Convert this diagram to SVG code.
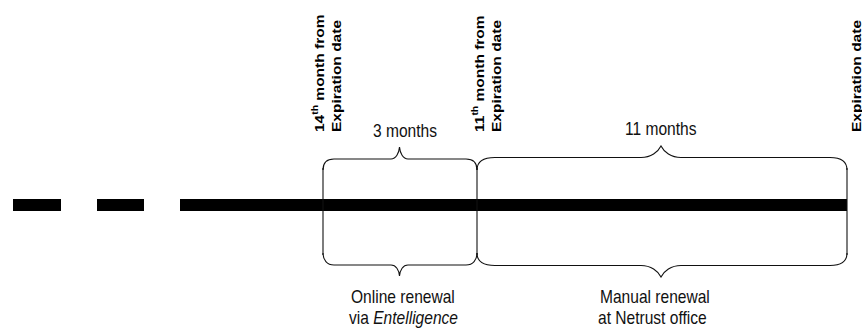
<svg xmlns="http://www.w3.org/2000/svg" width="862" height="332" viewBox="0 0 862 332">
<style>
.lbl{font-family:"Liberation Sans",Arial,sans-serif;font-size:17.5px;fill:#111}
.vl{font-family:"Liberation Sans",Arial,sans-serif;font-size:13.5px;font-weight:bold;fill:#000}
.ln{fill:none;stroke:#111;stroke-width:1.1}
.bar{fill:#000}
</style>
<rect width="862" height="332" fill="#fff"/>
<g id="timeline">
<rect class="bar" x="13" y="199" width="48" height="12"/>
<rect class="bar" x="97" y="199" width="47" height="12"/>
<rect class="bar" x="180" y="199" width="37" height="12"/>
<rect class="bar" x="217" y="199" width="630" height="12"/>
</g>
<g id="connectors">
<line class="ln" x1="323" y1="168" x2="323" y2="255"/>
<line class="ln" x1="477" y1="168" x2="477" y2="255"/>
<line class="ln" x1="847" y1="168" x2="847" y2="255"/>
<path class="ln" d="M323,170 C323,163 327,159 334,159 L391,159 C396,159 399,153 399.5,147 C400,153 403,159 408,159 L466,159 C473,159 477,163 477,170"/>
<path class="ln" d="M323,253 C323,260 327,265 334,265 L391,265 C396,265 399,270 399.5,276 C400,270 403,265 408,265 L466,265 C473,265 477,260 477,253"/>
<path class="ln" d="M477,170 C477,162 483,157.5 495,157.5 L641,157.5 C651,157.5 658,152 661,146 C664,152 671,157.5 681,157.5 L830,157.5 C841,157.5 847,162 847,170"/>
<path class="ln" d="M477,253 C477,261 483,265.5 495,265.5 L641,265.5 C651,265.5 658,271 661,277 C664,271 671,265.5 681,265.5 L830,265.5 C841,265.5 847,261 847,253"/>
</g>
<g id="mark14">
<text class="vl" transform="translate(323.5,132) rotate(-90) scale(1.15,1)">14<tspan font-size="9" dy="-6">th</tspan><tspan dy="6"> month from</tspan></text>
<text class="vl" transform="translate(341,132) rotate(-90) scale(1.15,1)">Expiration date</text>
</g>
<g id="mark11">
<text class="vl" transform="translate(483.5,132) rotate(-90) scale(1.15,1)">11<tspan font-size="9" dy="-6">th</tspan><tspan dy="6"> month from</tspan></text>
<text class="vl" transform="translate(501,132) rotate(-90) scale(1.15,1)">Expiration date</text>
</g>
<g id="expiry">
<text class="vl" transform="translate(860.5,132) rotate(-90) scale(1.15,1)">Expiration date</text>
</g>
<g id="online">
<text class="lbl" transform="translate(373,137) scale(0.89,1)">3 months</text>
<text class="lbl" transform="translate(351,303) scale(0.89,1)">Online renewal</text>
<text class="lbl" transform="translate(349,324) scale(0.89,1)">via <tspan font-style="italic">Entelligence</tspan></text>
</g>
<g id="manual">
<text class="lbl" transform="translate(625,135) scale(0.89,1)">11 months</text>
<text class="lbl" transform="translate(600,303) scale(0.89,1)">Manual renewal</text>
<text class="lbl" transform="translate(598,324) scale(0.89,1)">at Netrust office</text>
</g>
</svg>
